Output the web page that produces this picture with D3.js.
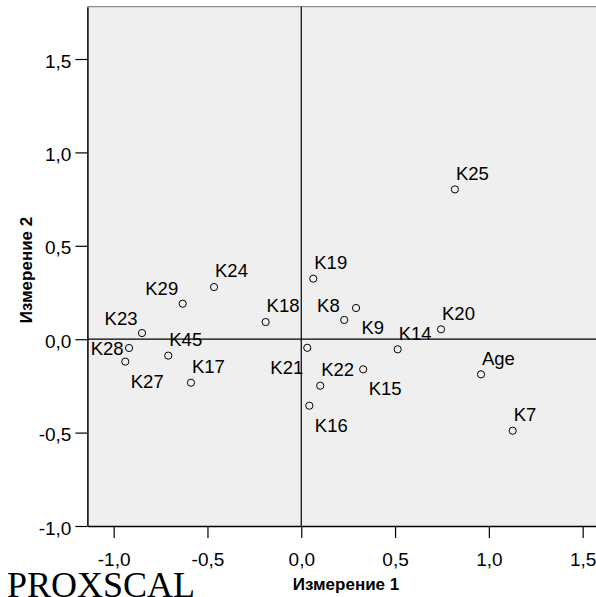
<!DOCTYPE html>
<html>
<head>
<meta charset="utf-8">
<script src="https://cdn.jsdelivr.net/npm/d3@7"></script>
<style>
  body { margin: 0; background: #fff; }
  svg { display: block; }
</style>
</head>
<body>
<svg id="chart" width="596" height="597"></svg>
<script>
// object coordinates (PROXSCAL, 2 dimensions)
const names = ["K25", "K24", "K29", "K18", "K23", "K28", "K27", "K45", "K17", "K21",
               "K19", "K8", "K9", "K14", "K20", "K22", "K15", "K16", "Age", "K7"];
const dim1 = [0.819, -0.465, -0.632, -0.190, -0.849, -0.918, -0.938, -0.709, -0.588, 0.032,
              0.064, 0.229, 0.292, 0.514, 0.745, 0.101, 0.330, 0.043, 0.958, 1.127];
const dim2 = [0.802, 0.279, 0.190, 0.092, 0.033, -0.047, -0.120, -0.088, -0.233, -0.046,
              0.324, 0.103, 0.167, -0.054, 0.053, -0.249, -0.161, -0.356, -0.188, -0.490];
const tickValues = [-1.0, -0.5, 0.0, 0.5, 1.0, 1.5];
const xTitle = "Измерение 1";
const yTitle = "Измерение 2";

const points = names.map((n, i) => ({ name: n, x: dim1[i], y: dim2[i] }));

// where SPSS put each label relative to its point
const side = {
  K29: "ul", K23: "ul", K8: "ul",
  K28: "l",
  K27: "lr", K9: "lr", K15: "lr", K16: "lr",
  K21: "ll"
};
const offsets = {
  ur: { dx: 1,    dy: -9.7, anchor: "start" },
  ul: { dx: -4.5, dy: -8.3, anchor: "end" },
  lr: { dx: 5.5,  dy: 26,   anchor: "start" },
  ll: { dx: -4,   dy: 26,   anchor: "end" },
  l:  { dx: -5.5, dy: 6.6,  anchor: "end" }
};

const svg = d3.select("#chart");
const font = "'Liberation Sans', Arial, sans-serif";

const x = d3.scaleLinear().domain([-1.14, 1.61]).range([87.4, 603.3]);
const y = d3.scaleLinear().domain([-1.0, 1.78]).range([526, 6.7]);

const ru = d3.formatLocale({ decimal: ",", thousands: " ", grouping: [3], currency: ["", ""], minus: "-" });
const fmt = ru.format(".1f");

// plot background
svg.append("rect")
  .attr("x", x(-1.14)).attr("y", y(1.78))
  .attr("width", x(1.61) - x(-1.14))
  .attr("height", y(-1.0) - y(1.78))
  .attr("fill", "#efefef");

// top frame line
svg.append("line")
  .attr("x1", x(-1.14)).attr("x2", 596)
  .attr("y1", y(1.78)).attr("y2", y(1.78))
  .attr("stroke", "#777").attr("stroke-width", 1);

// reference lines through origin
svg.append("line")
  .attr("x1", x(0)).attr("x2", x(0))
  .attr("y1", y(1.78)).attr("y2", y(-1.0))
  .attr("stroke", "#000").attr("stroke-width", 1.2);
svg.append("line")
  .attr("x1", x(-1.14)).attr("x2", 596)
  .attr("y1", y(0)).attr("y2", y(0))
  .attr("stroke", "#000").attr("stroke-width", 1.2);

// axes
const xAxis = svg.append("g")
  .attr("transform", `translate(0,${y(-1.0)})`)
  .call(d3.axisBottom(x).tickValues(tickValues).tickFormat(fmt).tickSize(12).tickSizeOuter(0));
const yAxis = svg.append("g")
  .attr("transform", `translate(${x(-1.14)},0)`)
  .call(d3.axisLeft(y).tickValues(tickValues).tickFormat(fmt).tickSize(12).tickSizeOuter(0));

[xAxis, yAxis].forEach(g => {
  g.select(".domain").attr("stroke", "#000").attr("stroke-width", 1.5);
  g.selectAll(".tick line").attr("stroke", "#000").attr("stroke-width", 1.2);
  g.selectAll("text")
    .attr("font-family", font)
    .attr("font-size", "19px")
    .attr("fill", "#000");
});
xAxis.selectAll("text").attr("y", 40).attr("dy", 0);
yAxis.selectAll("text").attr("x", -16).attr("y", 8).attr("dy", 0);

// axis titles
svg.append("text")
  .attr("x", 346).attr("y", 590)
  .attr("text-anchor", "middle")
  .attr("font-family", font).attr("font-weight", "bold").attr("font-size", "17px")
  .text(xTitle);
svg.append("text")
  .attr("transform", "translate(31.5,270) rotate(-90)")
  .attr("text-anchor", "middle")
  .attr("font-family", font).attr("font-weight", "bold").attr("font-size", "17px")
  .text(yTitle);

// points
svg.selectAll("circle.pt")
  .data(points)
  .join("circle")
    .attr("class", "pt")
    .attr("cx", d => x(d.x))
    .attr("cy", d => y(d.y))
    .attr("r", 3.6)
    .attr("fill", "none")
    .attr("stroke", "#000")
    .attr("stroke-width", 1);

// point labels
svg.selectAll("text.lbl")
  .data(points)
  .join("text")
    .attr("class", "lbl")
    .attr("x", d => x(d.x) + offsets[side[d.name] || "ur"].dx)
    .attr("y", d => y(d.y) + offsets[side[d.name] || "ur"].dy)
    .attr("text-anchor", d => offsets[side[d.name] || "ur"].anchor)
    .attr("font-family", font)
    .attr("font-size", "18.5px")
    .attr("fill", "#000")
    .text(d => d.name);

// procedure name underneath, cut by the picture edge
svg.append("text")
  .attr("x", 7).attr("y", 597)
  .attr("font-family", "'Liberation Serif', 'Times New Roman', serif")
  .attr("font-size", "36px")
  .attr("fill", "#000")
  .text("PROXSCAL");
</script>
</body>
</html>
